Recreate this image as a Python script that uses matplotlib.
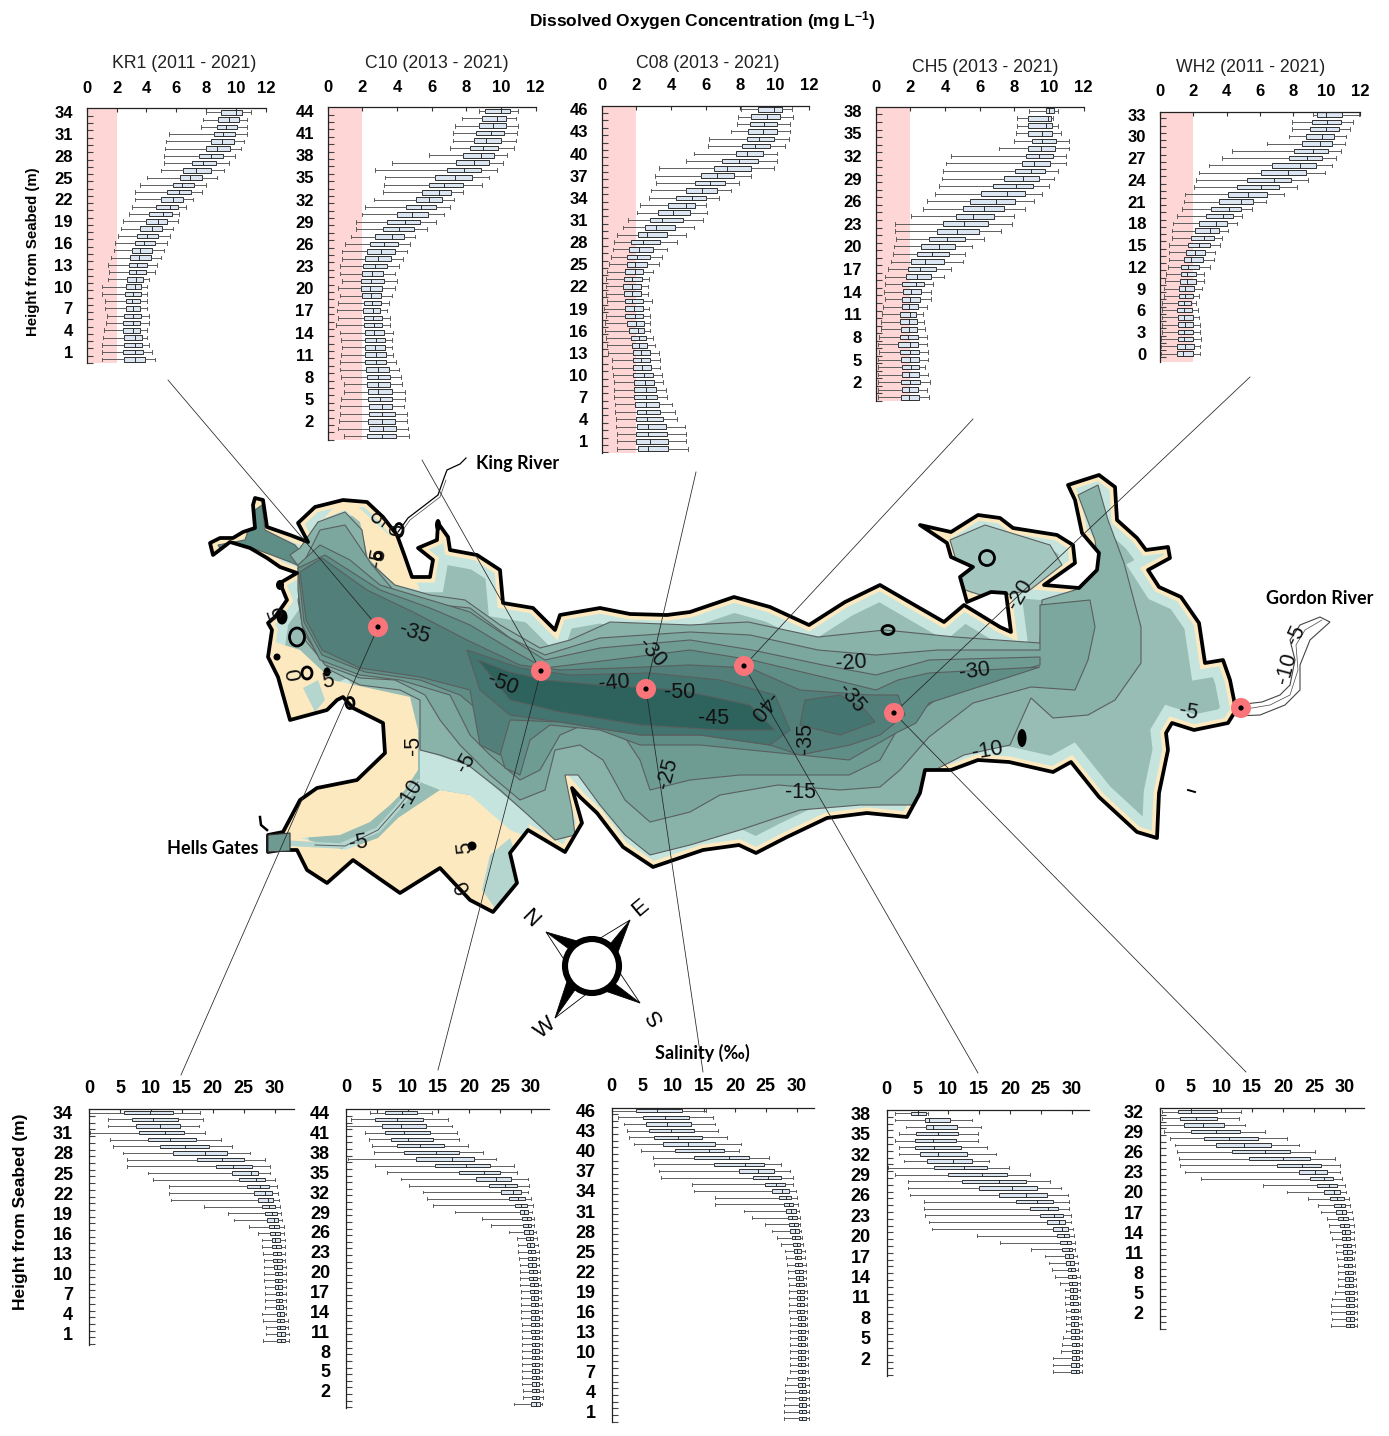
import matplotlib
matplotlib.use('Agg')
import matplotlib.pyplot as plt
from matplotlib.patches import Polygon, Circle, Ellipse

plt.rcParams['font.family'] = ['Liberation Sans', 'DejaVu Sans']
plt.rcParams['mathtext.default'] = 'regular'

W, H = 1389, 1436

# box stats, top row first: whisker low, q1, median, q3, whisker high
# dissolved oxygen
kr1_do = [(8.0,9.0,10.0,10.4,11.0),(7.8,8.8,9.55,10.2,10.75),(7.65,8.75,9.3,10.05,10.75),(5.5,8.55,9.15,9.95,10.7),
(5.3,8.3,9.05,9.85,10.55),(5.25,8.0,8.75,9.6,10.35),(5.2,7.5,8.3,9.1,9.9),(5.2,7.05,7.8,8.65,9.5),(4.95,6.45,7.3,8.3,9.2),
(4.05,6.25,6.9,7.75,8.7),(3.6,5.75,6.4,7.2,8.0),(3.2,5.4,6.15,6.95,7.75),(3.2,4.95,5.75,6.45,7.1),(3.0,4.65,5.55,6.1,6.65),
(2.8,4.2,5.1,5.7,6.2),(2.4,4.0,4.75,5.4,6.1),(2.3,3.6,4.35,5.05,5.75),(2.1,3.35,4.05,4.8,5.55),(1.9,3.25,3.85,4.6,5.35),
(1.8,3.0,3.6,4.35,5.15),(1.65,2.9,3.5,4.3,5.0),(1.45,2.85,3.35,4.05,4.7),(1.5,2.8,3.3,3.95,4.6),(1.45,2.7,3.3,3.75,4.15),
(1.05,2.65,3.2,3.65,4.05),(1.05,2.55,3.1,3.65,4.05),(1.25,2.65,3.05,3.6,4.05),(1.25,2.6,3.1,3.6,4.05),(1.35,2.5,3.1,3.65,4.15),
(1.3,2.45,3.1,3.6,4.15),(1.15,2.45,3.1,3.6,4.05),(1.1,2.5,3.2,3.7,4.05),(1.05,2.5,3.2,3.7,4.2),(1.05,2.45,3.2,3.8,4.4),(1.0,2.5,3.25,3.9,4.55)]
c10_do = [(8.75,9.1,10.0,10.5,11.0),(7.77,8.9,9.75,10.27,10.85),(7.33,8.7,9.55,10.27,10.96),(7.25,8.54,9.4,10.15,10.9),
(7.2,8.46,9.15,10.0,10.85),(7.06,8.23,8.96,9.83,10.73),(5.83,7.79,8.83,9.58,10.33),(3.73,7.42,8.46,9.29,10.1),(2.75,6.88,7.88,8.83,9.75),
(3.33,6.17,7.35,8.33,9.29),(3.25,5.85,6.69,7.79,8.88),(3.17,5.46,6.4,7.1,7.79),(2.69,5.08,5.87,6.58,7.27),(2.15,4.54,5.4,6.23,7.04),
(2.0,4.02,4.88,5.77,6.69),(1.63,3.44,4.44,5.35,6.23),(1.63,3.19,4.12,4.96,5.75),(1.37,2.75,3.69,4.38,5.02),(1.02,2.46,3.27,4.04,4.77),
(.85,2.29,3.1,3.87,4.58),(.85,2.17,2.88,3.63,4.37),(.73,2.04,2.71,3.4,4.13),(.73,1.96,2.58,3.21,3.87),(.85,1.9,2.48,3.23,4.0),
(.6,1.9,2.42,3.15,3.87),(.69,1.96,2.48,3.1,3.73),(.6,2.12,2.56,3.06,3.56),(.56,2.02,2.63,3.02,3.44),(.6,2.08,2.62,3.12,3.62),
(.5,2.12,2.69,3.15,3.62),(.69,2.17,2.69,3.23,3.79),(.79,2.17,2.81,3.29,3.69),(.85,2.15,2.75,3.29,3.73),(.79,2.15,2.81,3.35,3.79),
(.73,2.15,2.81,3.35,3.92),(.73,2.23,2.88,3.52,4.13),(.79,2.29,2.92,3.58,4.25),(.92,2.29,2.88,3.62,4.31),(.96,2.35,2.92,3.69,4.44),
(.79,2.35,3.0,3.73,4.44),(.73,2.4,3.12,3.73,4.38),(.73,2.4,3.15,3.87,4.56),(.67,2.35,3.15,3.87,4.58),(.6,2.4,3.19,3.92,4.65),(.92,2.29,3.15,3.92,4.71)]
c08_do = [(8.03,9.06,9.98,10.42,10.98),(7.86,8.65,9.54,10.29,11.08),(7.8,8.59,9.36,10.12,10.89),(7.48,8.46,9.31,10.12,10.87),
(6.22,8.4,9.11,9.96,10.81),(6.17,8.13,8.84,9.71,10.58),(5.34,7.78,8.42,9.31,10.12),(4.89,6.97,7.94,9.02,10.12),(3.33,6.51,7.23,8.61,9.98),
(3.1,5.74,6.65,7.63,8.61),(3.14,5.41,6.28,7.11,7.96),(2.87,4.89,5.82,6.65,7.46),(2.76,4.3,5.24,6.01,6.8),(2.24,3.85,4.86,5.41,6.01),
(2.06,3.28,4.1,5.09,6.09),(1.54,2.81,3.51,4.68,5.84),(1.25,2.49,3.16,4.22,5.32),(.91,2.12,2.64,3.76,4.89),(.73,1.71,2.37,3.35,4.34),
(.67,1.6,2.18,2.95,3.76),(.54,1.48,2.06,2.77,3.47),(.44,1.48,1.95,2.6,3.29),(.33,1.37,1.91,2.41,2.97),(.27,1.31,1.77,2.31,2.76),
(.27,1.25,1.77,2.25,2.7),(.27,1.31,1.77,2.25,2.7),(.33,1.37,1.77,2.37,2.93),(.15,1.37,1.89,2.37,2.76),(.27,1.37,1.95,2.37,2.81),
(.21,1.45,2.0,2.43,2.81),(.21,1.6,2.08,2.43,2.81),(.27,1.71,2.18,2.58,2.99),(.33,1.77,2.18,2.64,3.1),(.39,1.83,2.25,2.81,3.33),
(.62,1.83,2.25,2.81,3.39),(.62,1.83,2.31,2.87,3.39),(.67,1.83,2.43,2.95,3.47),(.73,1.89,2.52,3.04,3.55),(.73,1.89,2.58,3.16,3.7),
(.73,1.89,2.58,3.22,3.8),(.79,1.95,2.54,3.33,4.08),(.79,2.06,2.54,3.39,4.22),(.85,2.0,2.64,3.53,4.37),(.85,2.02,2.7,3.74,4.8),
(.91,2.0,2.7,3.8,4.89),(.91,1.98,2.81,3.85,4.89),(.91,2.12,2.7,3.85,5.01)]
ch5_do = [(8.87,9.85,10.0,10.31,10.54),(8.17,8.77,9.96,10.1,10.21),(8.17,8.77,9.85,10.19,10.54),(8.12,8.77,9.62,10.15,10.67),
(8.0,9.04,9.62,10.38,11.13),(7.13,8.81,9.56,10.35,11.13),(4.37,8.69,9.4,10.21,10.96),(4.04,8.42,9.12,10.04,10.96),(3.87,8.06,8.98,9.75,10.5),
(3.81,7.42,8.5,9.4,10.27),(3.63,6.75,8.12,9.06,9.98),(3.44,6.1,7.6,8.6,9.58),(2.98,5.46,6.96,8.02,9.12),(2.75,5.06,6.27,7.42,8.6),
(2.06,4.65,5.6,6.81,7.96),(1.13,3.9,5.08,6.46,7.85),(1.13,3.56,4.67,5.94,7.21),(1.19,3.1,4.1,5.15,6.23),(1.08,2.63,3.67,4.58,5.54),
(1.02,2.4,3.27,4.21,5.13),(.9,2.04,2.87,3.92,5.02),(.73,1.88,2.58,3.46,4.33),(.56,1.77,2.4,3.17,3.92),(.54,1.54,2.31,2.77,3.29),
(.5,1.58,2.02,2.6,3.17),(.56,1.54,2.0,2.58,3.17),(.44,1.5,1.9,2.42,2.94),(.38,1.42,1.96,2.31,2.71),(.33,1.42,1.94,2.37,2.77),
(.33,1.48,1.9,2.37,2.83),(.21,1.42,1.85,2.42,2.94),(.15,1.31,1.96,2.42,2.94),(.21,1.42,1.96,2.48,3.04),(.15,1.48,1.96,2.5,3.04),
(.13,1.5,2.02,2.48,2.87),(.13,1.54,1.9,2.5,3.04),(.15,1.48,1.96,2.54,3.15),(.13,1.5,1.9,2.42,2.98),(.13,1.48,1.9,2.5,3.1)]
wh2_do = [(9.16,9.44,9.98,10.94,11.94),(7.9,9.1,10.04,10.84,11.56),(7.9,9.02,9.98,10.72,11.4),(7.74,8.78,9.7,10.46,11.18),
(6.4,8.54,9.58,10.34,11.12),(4.34,8.06,9.16,10.06,10.88),(3.7,7.76,8.84,9.72,10.54),(2.96,6.74,8.38,9.34,10.3),(2.36,6.08,7.7,8.78,9.92),
(2.18,5.24,6.82,7.84,8.86),(2.06,4.64,6.08,7.16,8.24),(1.52,4.1,5.3,6.4,7.46),(1.42,3.56,4.88,5.6,6.38),(1.34,3.08,4.16,4.84,5.5),
(1.04,2.78,3.78,4.36,4.94),(.8,2.36,3.38,4.0,4.6),(.74,2.12,3.02,3.56,4.06),(.74,1.88,2.66,3.22,3.74),(.56,1.7,2.36,2.98,3.58),
(.56,1.54,2.12,2.72,3.32),(.56,1.42,1.88,2.56,3.26),(.5,1.28,1.7,2.36,3.02),(.38,1.28,1.64,2.18,2.66),(.32,1.22,1.64,2.18,2.66),
(.26,1.16,1.52,2.02,2.54),(.22,1.16,1.52,1.96,2.36),(.14,1.1,1.46,1.84,2.18),(.14,1.04,1.46,1.9,2.3),(.14,1.1,1.46,1.96,2.36),
(.14,1.1,1.52,1.96,2.42),(.14,1.1,1.46,1.96,2.42),(.06,1.06,1.46,1.96,2.48),(.06,1.04,1.52,2.02,2.42),(.06,1.0,1.4,1.96,2.42)]

# salinity
kr1_sal = [(0,5.7,9.85,13.6,17.95),(3.0,6.95,10.35,14.3,18.35),(3.0,7.6,11.4,14.65,17.8),(.15,8.13,12.2,15.4,18.7),(3.45,9.6,13.15,17.25,21.3),
(3.8,11.55,15.45,19.35,23.15),(5.55,13.6,18.7,22.35,26.0),(6.15,17.4,21.45,25.0,28.4),(6.2,20.55,23.3,26.3,29.2),(9.6,23.05,26.1,27.25,29.3),
(10.4,24.3,26.9,28.4,30.0),(12.9,25.6,27.7,29.05,30.3),(12.9,26.6,28.4,29.5,30.6),(13.2,27.35,28.9,29.8,30.65),(18.65,27.9,29.15,30.0,30.8),
(22.45,28.5,29.6,30.3,31.0),(23.5,28.8,29.85,30.5,31.25),(25.9,29.15,29.95,30.65,31.45),(27.35,29.3,30.1,30.8,31.45),(28.0,29.5,30.1,30.85,31.6),
(28.0,29.6,30.15,30.95,31.6),(28.15,29.8,30.3,30.95,31.6),(28.2,29.8,30.3,31.1,31.6),(28.3,29.9,30.4,31.1,31.75),(28.3,30.0,30.5,31.1,31.75),
(28.3,30.1,30.6,31.25,31.9),(28.5,30.1,30.6,31.25,31.9),(28.5,30.15,30.65,31.25,31.9),(28.5,30.15,30.65,31.25,31.9),(28.5,30.25,30.75,31.35,31.9),
(27.95,30.3,30.8,31.45,31.9),(28.15,30.3,30.8,31.45,32.1),(28.55,30.4,30.9,31.6,32.15),(28.55,30.4,30.95,31.65,32.25),(28.15,30.4,30.95,31.65,32.25)]
c10_sal = [(3.95,6.4,9.05,11.5,13.9),(.85,4.75,8.25,12.45,16.5),(0,5.85,8.9,13.0,17.15),(3.15,6.4,9.35,13.6,18.0),(3.7,7.35,10.05,14.1,18.3),
(4.3,8.35,12.05,15.85,19.75),(4.55,9.45,14.55,18.3,22.2),(.4,11.4,17.25,20.85,24.3),(4.75,14.4,19.55,23.4,27.25),(6.7,18.4,22.45,25.05,27.7),
(9.0,21.15,24.3,26.85,29.5),(10.3,23.3,25.9,27.85,29.65),(12.55,25.25,27.2,28.35,29.5),(13.2,26.5,27.9,29.0,30.0),(14.2,27.5,28.35,29.45,30.3),
(17.65,28.2,28.95,29.6,30.15),(22.05,28.65,29.35,30.0,30.5),(23.5,28.8,29.5,30.0,30.6),(26.4,28.95,29.65,30.3,30.8),(27.85,29.3,29.85,30.3,30.95),
(28.0,29.35,29.95,30.5,31.15),(28.0,29.5,30.0,30.65,31.3),(28.15,29.5,30.15,30.8,31.3),(28.2,29.6,30.15,30.8,31.3),(28.2,29.65,30.3,30.95,31.45),
(28.3,29.75,30.3,30.95,31.45),(28.3,29.95,30.5,31.15,31.6),(28.45,29.95,30.5,31.15,31.75),(28.45,30.0,30.5,31.15,31.6),(28.48,30.0,30.64,31.19,31.78),
(28.48,30.1,30.64,31.19,31.78),(28.48,30.1,30.64,31.29,31.78),(28.53,30.1,30.64,31.29,31.78),(28.53,30.1,30.64,31.29,31.78),(28.53,30.16,30.7,31.29,31.78),
(28.53,30.27,30.75,31.29,31.78),(28.64,30.27,30.75,31.29,31.78),(28.64,30.27,30.75,31.29,31.78),(28.64,30.27,30.75,31.29,31.78),(28.64,30.27,30.75,31.29,31.78),
(28.64,30.27,30.81,31.4,31.89),(28.64,30.27,30.81,31.29,31.78),(28.8,30.27,30.81,31.29,31.94),(28.8,30.27,30.81,31.29,31.94),(27.34,30.1,30.81,31.46,31.89)]
c08_sal = [(0,4.0,7.4,11.35,15.25),(.97,5.03,8.6,12.5,16.4),(2.05,5.62,8.97,12.8,16.7),(2.43,6.1,9.57,13.4,17.2),(2.87,6.92,10.7,14.7,18.75),
(3.57,8.38,12.32,16.7,20.9),(4.8,10.32,15.84,18.16,20.6),(6.76,13.4,19.08,22.2,25.46),(6.92,16.65,21.68,24.65,27.5),(7.73,20.7,23.78,26.38,28.86),
(8.05,22.97,25.4,27.4,29.35),(13.08,24.86,26.7,28.05,29.35),(13.4,26.05,27.57,28.7,29.84),(16.8,27.2,28.32,29.03,30.0),(16.8,28.0,28.7,29.46,30.16),
(21.4,28.32,29.03,29.84,30.32),(22.8,28.65,29.2,30.0,30.54),(24.8,28.8,29.5,30.16,30.54),(26.05,28.97,29.68,30.32,30.65),(26.8,29.2,29.8,30.5,30.8),
(27.5,29.35,30.0,30.5,31.1),(28.05,29.5,30.0,30.7,31.3),(28.32,29.68,30.1,30.7,31.3),(28.5,29.68,30.16,30.8,31.46),(28.54,29.8,30.32,30.97,31.46),
(28.54,29.86,30.32,30.97,31.46),(28.7,29.95,30.43,31.14,31.46),(28.7,30.0,30.54,31.14,31.6),(28.7,30.0,30.54,31.14,31.6),(28.7,30.0,30.54,31.14,31.6),
(28.7,30.1,30.54,31.14,31.6),(28.86,30.16,30.65,31.3,31.6),(28.86,30.16,30.65,31.3,31.6),(28.86,30.16,30.65,31.3,31.78),(28.86,30.16,30.65,31.3,31.6),
(28.86,30.16,30.65,31.3,31.6),(28.97,30.16,30.65,31.3,31.78),(28.97,30.27,30.7,31.3,31.78),(28.97,30.27,30.7,31.3,31.78),(28.97,30.27,30.8,31.3,31.78),
(28.5,30.27,30.8,31.3,31.95),(28.05,30.27,30.8,31.3,31.95),(28.05,30.32,30.8,31.46,31.95),(28.05,30.43,30.8,31.46,31.95),(28.0,30.43,30.8,31.46,31.95),
(28.0,30.43,30.8,31.46,31.95),(28.0,30.43,30.8,31.46,31.95)]
ch5_sal = [(1.4,4.0,5.03,6.43,6.76),(1.4,6.27,6.92,10.32,13.78),(3.19,6.43,7.57,11.46,15.24),(2.05,4.81,8.38,11.62,14.86),(1.4,4.65,7.57,11.19,14.86),
(1.95,4.65,7.73,12.0,16.32),(2.05,5.35,8.38,13.08,17.68),(2.86,6.59,10.81,13.78,16.65),(.27,7.73,12.59,16.22,19.78),(1.4,9.89,15.51,19.46,23.3),
(3.51,12.27,18.27,22.54,26.54),(3.51,15.03,20.38,24.32,28.22),(3.84,18.27,22.54,26.05,29.35),(6.05,21.03,24.43,26.92,29.51),(6.05,23.3,26.11,27.84,29.51),
(6.27,24.86,27.08,28.54,29.84),(6.92,26.05,28.0,28.97,29.84),(7.35,27.03,28.38,29.35,30.16),(14.59,27.68,28.7,29.51,30.32),(18.32,28.16,29.19,29.84,30.49),
(23.35,28.49,29.51,30.0,30.54),(25.62,28.97,29.62,30.16,30.81),(26.27,29.14,29.78,30.32,30.97),(26.86,29.35,29.95,30.49,30.97),(27.35,29.46,30.0,30.65,31.3),
(28.05,29.62,30.11,30.81,31.3),(28.86,29.78,30.27,30.81,31.41),(28.86,29.78,30.27,30.81,31.41),(28.86,29.78,30.27,30.97,31.41),(29.03,29.95,30.43,30.97,31.41),
(29.03,29.95,30.43,30.97,31.57),(29.03,29.95,30.43,30.97,31.62),(29.03,29.95,30.49,31.14,31.62),(28.65,29.95,30.49,31.14,31.62),(28.49,30.11,30.65,31.14,31.62),
(28.32,30.11,30.65,31.14,31.62),(27.03,30.11,30.65,31.14,31.62),(27.03,29.95,30.65,31.14,31.62),(27.03,29.95,30.65,31.14,31.62)]
wh2_sal = [(.43,3.02,5.02,9.34,13.22),(.43,3.35,5.94,9.34,12.9),(0,3.89,6.96,10.36,13.87),(.65,5.02,9.07,12.95,17.05),(1.73,7.23,11.28,15.97,20.67),
(2.54,9.17,13.71,18.08,22.5),(2.86,11.76,17.11,21.15,25.2),(3.18,14.52,20.02,24.29,28.44),(3.35,18.94,23.1,26.17,29.14),(4.16,22.61,25.2,27.14,29.25),
(6.64,24.39,26.55,28.12,29.57),(16.78,25.53,27.47,28.76,30.06),(20.62,26.66,28.28,29.25,30.22),(24.07,27.52,28.76,29.79,30.71),(25.69,28.28,29.3,30.06,30.87),
(26.17,28.6,29.47,30.22,31.08),(27.14,28.93,29.73,30.44,31.35),(27.47,29.25,29.9,30.6,31.52),(27.63,29.47,30.06,30.76,31.52),(27.95,29.57,30.22,30.87,31.52),
(28.6,29.73,30.28,30.92,31.68),(28.6,29.73,30.38,31.08,31.68),(28.76,29.9,30.38,31.08,31.52),(28.82,29.9,30.54,31.08,31.68),(28.82,30.06,30.54,31.25,31.68),
(28.93,30.06,30.6,31.25,31.84),(28.93,30.06,30.6,31.25,31.84),(28.39,30.06,30.65,31.41,32.0),(27.95,30.22,30.71,31.41,32.0),(27.79,30.22,30.71,31.41,32.0),
(27.79,30.22,30.82,31.41,32.0),(27.95,30.22,30.82,31.41,32.0),(27.79,30.22,30.82,31.41,32.0)]

top_titles = ['KR1 (2011 - 2021)', 'C10 (2013 - 2021)', 'C08 (2013 - 2021)', 'CH5 (2013 - 2021)', 'WH2 (2011 - 2021)']
do_ticks = [0, 2, 4, 6, 8, 10, 12]
sal_ticks = [0, 5, 10, 15, 20, 25, 30]

# map outlines, in picture pixels
coast = [(210,543),(220,538),(233,538),(243,532),(255,528),(253,505),(255,498),(263,500),(267,527),(290,535),(308,542),(298,523),(315,507),(343,500),(367,502),
(383,517),(397,535),(405,557),(412,577),(430,577),(433,560),(418,548),(437,540),(438,523),(448,537),(450,550),(477,555),(500,570),(503,603),
(533,608),(555,630),(560,615),(600,608),(630,614),(667,615),(690,612),(734,597),(770,607),(809,625),(845,602),(880,585),(911,603),(944,622),(964,605),
(1000,627),(1011,632),(1006,593),(991,592),(967,602),(960,577),(973,567),(951,557),(947,543),(920,525),(951,532),(978,515),(1000,518),(1013,528),
(1057,535),(1073,545),(1075,563),(1044,585),(1079,588),(1097,570),(1099,553),(1082,533),(1075,500),(1068,485),(1099,475),(1115,487),(1117,520),
(1137,538),(1146,550),(1168,547),(1170,558),(1148,570),(1159,587),(1181,597),(1199,623),(1205,663),(1223,660),(1230,680),(1234,700),(1236,710),
(1228,723),(1194,730),(1172,723),(1166,733),(1168,750),(1159,793),(1157,838),(1137,832),(1099,797),(1071,762),(1053,772),(1009,762),(978,760),
(951,770),(925,770),(920,793),(907,817),(867,813),(827,818),(787,837),(756,853),(739,845),(703,850),(653,867),(623,847),(597,813),(580,797),
(572,788),(582,823),(565,852),(528,830),(510,853),(517,883),(493,912),(470,900),(440,868),(400,893),(377,877),(353,860),(327,883),(307,870),
(297,850),(280,850),(268,852),(268,835),(283,832),(300,800),(317,788),(357,780),(385,753),(383,723),(353,708),(343,697),(337,700),(327,710),
(290,720),(278,677),(268,657),(272,630),(268,623),(275,617),(287,600),(280,583),(297,573),(280,567),(267,558),(250,548),(230,542),(213,555)]
sand_nw = [(300,545),(345,495),(400,545),(420,590),(395,585),(368,558),(360,522),(345,510),(320,520)]
sand_south = [(268,640),(300,650),(332,680),(410,697),(418,730),(418,770),(405,790),(390,805),(370,822),(340,835),(300,838),(345,850),(378,838),
(398,818),(425,800),(440,790),(470,795),(500,800),(523,815),(518,840),(490,860),(490,890),(520,900),(480,930),(260,930),(240,800),(260,640)]
pale_bay = [(420,750),(468,765),(528,815),(530,838),(510,830),(470,795),(440,790),(420,782)]
pale_south = [(490,855),(510,838),(525,880),(495,908),(482,890)]
pale_west = [(303,688),(318,680),(325,700),(315,712)]
west_arm = [(218,545),(245,540),(255,510),(262,505),(265,530),(295,545),(320,575),(290,562),(250,547),(222,552)]
ne_bay = [(950,540),(985,525),(1050,545),(1062,565),(1030,590),(990,598),(965,590)]
band1 = [(300,548),(318,522),(345,512),(362,530),(367,560),(395,585),(430,595),(465,600),(500,625),(540,648),(570,640),(610,622),(690,625),(748,622),
(818,637),(885,630),(955,637),(1040,643),(1042,600),(1075,590),(1098,565),(1095,540),(1078,495),(1098,485),(1108,520),(1124,563),(1141,627),
(1141,663),(1115,700),(1088,715),(1053,718),(1031,698),(1010,745),(964,755),(925,775),(915,805),(860,805),(800,810),(740,830),(690,845),(650,855),
(625,835),(600,805),(578,775),(565,775),(572,810),(575,835),(555,840),(528,815),(500,790),(468,765),(440,755),(420,750),(420,700),(400,690),
(360,685),(330,670),(305,640),(298,600),(305,575),(290,555)]
band2 = [(305,560),(320,530),(345,525),(372,565),(395,592),(430,604),(470,608),(510,638),(545,655),(600,638),(690,632),(750,635),(818,650),(876,655),(938,650),
(1040,650),(1040,605),(1090,600),(1095,627),(1088,660),(1075,690),(1031,687),(973,703),(929,737),(900,770),(880,787),(840,790),(778,785),(720,795),
(690,812),(650,822),(625,800),(603,760),(580,745),(555,750),(545,790),(520,800),(490,775),(460,745),(440,720),(425,695),(395,680),(360,678),
(325,665),(305,635),(300,595)]
band3 = [(298,565),(320,545),(350,560),(380,585),(430,600),(470,612),(500,632),(545,660),(600,648),(690,640),(752,650),(823,665),(876,675),(929,660),(1040,657),
(1040,665),(950,690),(900,725),(880,760),(849,775),(800,775),(740,775),(690,780),(650,790),(640,760),(620,730),(590,722),(560,735),(540,770),
(520,780),(490,755),(470,735),(450,695),(400,680),(360,675),(320,660),(302,625),(298,590)]
band4 = [(298,568),(325,555),(380,590),(430,608),(470,625),(515,652),(545,668),(610,660),(690,650),(752,660),(823,677),(876,690),(898,680),(929,673),(1040,667),
(929,703),(916,723),(898,732),(849,760),(800,755),(750,750),(700,745),(640,745),(600,730),(550,725),(530,740),(520,775),(505,768),(490,720),
(460,695),(420,680),(365,672),(322,655),(304,622)]
band5 = [(300,572),(322,558),(367,590),(413,612),(467,640),(520,665),(560,670),(620,668),(690,665),(750,668),(800,690),(870,695),(898,695),(905,715),(880,735),
(850,745),(800,755),(770,745),(700,735),(640,735),(560,722),(510,720),(500,755),(480,745),(470,690),(420,677),(360,668),(322,650),(306,620)]
band6 = [(467,650),(520,668),(570,675),(650,673),(720,680),(775,695),(790,730),(770,745),(700,735),(640,735),(560,722),(510,715),(480,690)]
band6b = [(805,700),(840,695),(865,710),(875,722),(840,735),(800,725)]
band7 = [(478,660),(510,672),(545,680),(600,685),(680,690),(750,705),(775,730),(720,730),(640,725),(560,712),(510,700)]
gordon_river = [(1236,705),(1262,702),(1280,695),(1290,685),(1295,660),(1290,640),(1300,625),(1320,617),(1330,622),(1310,640),(1300,665),(1300,690),
(1285,705),(1260,715),(1236,716)]
gordon_mid = [(1240,710),(1270,705),(1290,695),(1298,670),(1296,645),(1305,630),(1322,620)]
king_river = [(398,532),(408,518),(425,505),(438,495),(444,478),(447,470),(460,464),(466,458)]
stations = [(378,627),(541,671),(646,689),(744,666),(894,713),(1241,708)]
leaders = [((168,380),(378,627)),((422,460),(541,671)),((696,472),(646,689)),((973,419),(744,666)),((1250,377),(894,713)),
((181,1075),(378,627)),((438,1070),(541,671)),((703,1072),(646,689)),((978,1073),(744,666)),((1246,1072),(894,713))]
# x, y, width, height
rings = [(297,637,15,18),(307,673,10,12),(350,703,8,11),(399,530,8,13),(378,556,7,7),(987,558,15,15),(888,630,12,9)]
blobs = [(472,846,9,9),(282,617,11,15),(280,585,8,10),(277,657,7,7),(438,525,6,12),(1022,738,9,18),(327,672,7,9)]
depth_labels = [('-35',414,633,-17),('-50',503,684,-20),('-40',614,683,5),('-50',680,693,0),('-30',652,653,-48),('-45',714,719,0),('-20',851,663,5),
('-35',851,698,-50),('-30',975,671,8),('-25',668,774,75),('-35',806,738,90),('-40',762,706,-130),('-15',800,793,0),('-10',987,751,10),('-5',1188,712,-10),
('-10',1287,668,75),('-5',1296,635,65),('-20',1020,595,60),('-5',414,745,90),('-5',466,763,60),('-10',410,795,60),('-5',358,843,10),('5',375,517,-125),
('-5',378,558,80),('0',399,530,90),('5',277,612,110),('0',296,674,100),('5',328,682,10),('5',465,848,95),('0',458,890,-60)]

fig = plt.figure(figsize=(W / 100, H / 100), dpi=100)
bg = fig.add_axes([0, 0, 1, 1], zorder=0)
bg.set_xlim(0, W)
bg.set_ylim(H, 0)
bg.axis('off')

# estuary: fill, shore fringes, then depth bands clipped to the shore
shore = Polygon(coast, closed=True, fc='#97BDB5', ec='none', zorder=1)
bg.add_patch(shore)
for col, lw in [('#C5E4DE', 22), ('#FDE9C0', 8)]:
    fringe = Polygon(coast, closed=True, fc='none', ec=col, lw=lw, zorder=1.1)
    bg.add_patch(fringe)
    fringe.set_clip_path(shore)
for pts, col in [(sand_nw, '#FDE9C0'), (sand_south, '#FDE9C0'), (pale_bay, '#C5E4DE'), (pale_south, '#B5D6CF'), (pale_west, '#B5D6CF')]:
    p = Polygon(pts, closed=True, fc=col, ec='none', zorder=1.2)
    bg.add_patch(p)
    p.set_clip_path(shore)
bands = [(ne_bay, '#A3C6BF'), (west_arm, '#5F8E86'), (band1, '#89B2A9'), (band2, '#7BA79E'), (band3, '#6E9C93'), (band4, '#5F8E86'), (band5, '#527F7A'),
         (band6, '#437570'), (band6b, '#447571'), (band7, '#2E635D')]
for i, (pts, col) in enumerate(bands):
    p = Polygon(pts, closed=True, fc=col, ec='#5A5F5E', lw=0.8, zorder=1.3 + i * 0.01)
    bg.add_patch(p)
    p.set_clip_path(shore)
bg.plot([285, 340, 378, 400, 418], [843, 846, 830, 805, 782], color='#B5D6CF', lw=4, zorder=1.25, solid_capstyle='round')
bg.plot([315, 345, 378, 400, 418], [845, 846, 830, 805, 782], color='#5A5F5E', lw=0.7, zorder=1.26)
bg.add_patch(Polygon(coast, closed=True, fc='none', ec='black', lw=2.7, joinstyle='round', zorder=2))

bg.add_patch(Polygon(gordon_river, closed=True, fc='white', ec='#444444', lw=0.8, zorder=1.9))
bg.plot(*zip(*gordon_mid), color='#444444', lw=0.5, zorder=1.95)
bg.plot(*zip(*king_river), color='black', lw=0.9, zorder=1.9)
bg.plot([x + 2 for x, y in king_river[:5]], [y + 2 for x, y in king_river[:5]], color='#444444', lw=0.5, zorder=1.9)
bg.add_patch(Polygon([(268, 835), (290, 833), (290, 851), (268, 852)], closed=True, fc='#6F9A92', ec='#333333', lw=0.8, zorder=2.1))
bg.plot([260, 261, 267], [817, 825, 830], color='black', lw=1.8, zorder=2.1)
bg.plot([1188, 1195], [790, 792], color='black', lw=1.4, zorder=2.1)

for x, y, w, h in rings:
    bg.add_patch(Ellipse((x, y), w, h, fc='none', ec='black', lw=2, zorder=2.2))
for x, y, w, h in blobs:
    bg.add_patch(Ellipse((x, y), w, h, fc='black', ec='none', zorder=2.2))

for a, b in leaders:
    bg.plot([a[0], b[0]], [a[1], b[1]], color='#222222', lw=0.55, zorder=3)
for x, y in stations:
    bg.add_patch(Circle((x, y), 10, fc='#F9757A', ec='none', zorder=4))
    bg.add_patch(Circle((x, y), 2.6, fc='black', ec='none', zorder=4.1))

for txt, x, y, rot in depth_labels:
    bg.text(x, y, txt, fontsize=15.5, rotation=rot, ha='center', va='center', color='#111111', zorder=3.5)

# compass
cx, cy = 592, 966
for tip in [(630, 920), (546, 932), (640, 1003), (555, 1018)]:
    dx, dy = tip[0] - cx, tip[1] - cy
    d = (dx * dx + dy * dy) ** 0.5
    ux, uy = dx / d, dy / d
    base = (cx + ux * 22, cy + uy * 22)
    s1 = (base[0] - uy * 13, base[1] + ux * 13)
    s2 = (base[0] + uy * 13, base[1] - ux * 13)
    bg.add_patch(Polygon([tip, base, s1], closed=True, fc='black', ec='black', lw=0.6, zorder=5))
    bg.add_patch(Polygon([tip, base, s2], closed=True, fc='white', ec='black', lw=0.6, zorder=5))
bg.add_patch(Circle((cx, cy), 27, fc='white', ec='black', lw=4.4, zorder=5.1))
for txt, x, y, rot in [('N', 530, 919, -45), ('E', 640, 908, 40), ('S', 655, 1016, 125), ('W', 545, 1028, 40)]:
    bg.text(x, y, txt, fontsize=16, rotation=rot, ha='center', va='center', zorder=5)

# titles and place names
bg.text(702, 21, 'Dissolved Oxygen Concentration (mg L$^{-1}$)', fontsize=12.5, fontweight='bold', ha='center', va='center')
for txt, x, y in zip(top_titles, [184, 437, 708, 985, 1251], [63, 64, 64, 67, 67]):
    bg.text(x, y, txt, fontsize=12.7, ha='center', va='center', color='#222222')
for txt, x, y in [('King River', 518, 463), ('Gordon River', 1320, 599), ('Hells Gates', 213, 849)]:
    bg.text(x, y, txt, fontsize=13, fontweight='bold', family=['Lato', 'DejaVu Sans'], ha='center', va='center')
bg.text(702, 1053, 'Salinity (‰)', fontsize=13, fontweight='bold', family=['Lato', 'DejaVu Sans'], ha='center', va='center')
bg.text(33, 252, 'Height from Seabed (m)', fontsize=10.8, fontweight='bold', rotation=90, ha='center', va='center')
bg.text(21, 1212, 'Height from Seabed (m)', fontsize=12.5, fontweight='bold', rotation=90, ha='center', va='center')


def box_panel(rows, top_label, x0, x_ref, x_end, ref_val, top, row_top, row0, bottom, ticks, pink, fs, ypad, bw):
    n = len(rows) - 1
    step = (row0 - row_top) / n
    ax = fig.add_axes([x0 / W, 1 - bottom / H, (x_end - x0) / W, (bottom - top) / H], zorder=2)
    ax.patch.set_alpha(0)
    ax.set_xlim(0, (x_end - x0) / (x_ref - x0) * ref_val)
    ax.set_ylim(-(bottom - row0) / step, n + (row_top - top) / step)
    pos = [n - i for i in range(n + 1)]
    stats = [dict(whislo=r[0], q1=r[1], med=r[2], q3=r[3], whishi=r[4], fliers=[]) for r in rows]
    if pink:
        ax.axvspan(0, 2, color='#FFD6D6', lw=0, zorder=0)
    ax.bxp(stats, positions=pos, orientation='horizontal', widths=bw, capwidths=bw * 0.8, patch_artist=True, showfliers=False, manage_ticks=False,
           boxprops=dict(facecolor='#DCE6F2', edgecolor='#222222', lw=0.65),
           medianprops=dict(color='#222222', lw=0.65),
           whiskerprops=dict(color='#555555', lw=0.65),
           capprops=dict(color='#555555', lw=0.65))
    for s in ['right', 'bottom']:
        ax.spines[s].set_visible(False)
    for s in ['top', 'left']:
        ax.spines[s].set_color('#222222')
        ax.spines[s].set_linewidth(0.9)
    ax.xaxis.tick_top()
    ax.set_xticks(ticks)
    ax.set_xticklabels([str(t) for t in ticks], fontsize=fs, fontweight='bold')
    ax.tick_params(axis='x', direction='in', length=3, width=0.8, pad=9, color='#333333')
    labs = list(range(top_label, -1, -3))
    ax.set_yticks(labs)
    ax.set_yticklabels([str(v) for v in labs], fontsize=fs, fontweight='bold')
    ax.tick_params(axis='y', which='major', length=0, pad=ypad)
    ax.set_yticks([v - 0.5 for v in range(n + 1)], minor=True)
    ax.tick_params(axis='y', which='minor', direction='in', length=4, width=0.8, color='#444444')
    return ax


box_panel(kr1_do, 34, 86.7, 266, 266, 12, 108.3, 112.3, 360, 363, do_ticks, True, 12, 10, 0.62)
box_panel(c10_do, 44, 327.7, 535.7, 535.7, 12, 107.3, 111, 436, 440, do_ticks, True, 12, 10, 0.62)
box_panel(c08_do, 46, 601.7, 809.3, 809.3, 12, 105.7, 109.3, 448.7, 452.7, do_ticks, True, 12, 10, 0.62)
box_panel(ch5_do, 38, 875.7, 1083.7, 1083.7, 12, 107.3, 110.7, 397.3, 401, do_ticks, True, 12, 10, 0.62)
box_panel(wh2_do, 33, 1160, 1360, 1360, 12, 111.7, 114.7, 353.7, 362.3, do_ticks, True, 12, 10, 0.62)
box_panel(kr1_sal, 34, 89, 274.7, 294, 30, 1109.3, 1112.7, 1340.7, 1344.7, sal_ticks, False, 13, 11.5, 0.5)
box_panel(c10_sal, 44, 346, 530.7, 549, 30, 1109, 1112.7, 1404, 1407.7, sal_ticks, False, 13, 11.5, 0.5)
box_panel(c08_sal, 46, 611.7, 796.7, 814.3, 30, 1107.7, 1110.7, 1418.3, 1422.3, sal_ticks, False, 13, 11.5, 0.5)
box_panel(ch5_sal, 38, 886.7, 1071.7, 1089.3, 30, 1110, 1113.3, 1371.7, 1375.7, sal_ticks, False, 13, 11.5, 0.5)
box_panel(wh2_sal, 32, 1159.7, 1345, 1364, 30, 1108.3, 1111.7, 1325.7, 1329.3, sal_ticks, False, 13, 11.5, 0.5)

fig.savefig('out.png', dpi=100)
